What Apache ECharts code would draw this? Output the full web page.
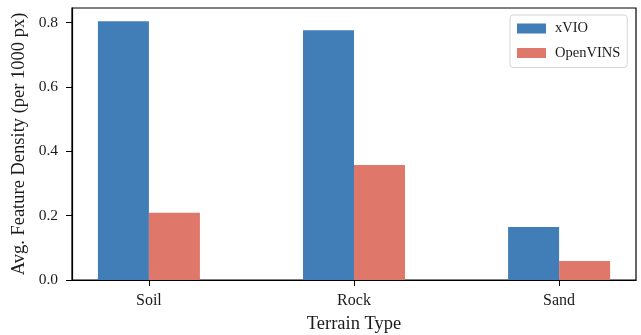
<!DOCTYPE html>
<html><head><meta charset="utf-8">
<script src="https://cdn.jsdelivr.net/npm/echarts@6/dist/echarts.min.js"></script>
<style>html,body{margin:0;padding:0;background:#fff}#c{width:641px;height:335px}</style>
</head><body><div id="c"></div>
<script>
var categories = ['Soil', 'Rock', 'Sand'];
var xvio = [0.804, 0.776, 0.165];
var openvins = [0.209, 0.357, 0.059];
var yTicks = [0, 0.2, 0.4, 0.6, 0.8];

var font = 'Liberation Serif';
var chart = echarts.init(document.getElementById('c'), null, {renderer: 'canvas'});
function pts(arr) { return arr.map(function (v, i) { return [i, v]; }); }
chart.setOption({
  animation: false,
  backgroundColor: '#fff',
  grid: {left: 72, top: 8, width: 564, height: 272, show: true, borderColor: '#000', borderWidth: 1.2,
    backgroundColor: 'transparent', containLabel: false, outerBoundsMode: 'none'},
  legend: {
    data: ['xVIO', 'OpenVINS'], orient: 'vertical', left: 510, top: 15,
    itemWidth: 29, itemHeight: 10, itemGap: 9.5, padding: [6, 7, 7, 7],
    backgroundColor: '#fff', borderColor: '#d5d5d5', borderWidth: 1, borderRadius: 3,
    textStyle: {fontFamily: font, fontSize: 14.5, color: '#1a1a1a', padding: [0, 0, 0, 4]},
    itemStyle: {borderWidth: 0}, icon: 'rect'
  },
  xAxis: {
    type: 'value', min: -0.375, max: 2.375,
    name: 'Terrain Type', nameLocation: 'middle', nameGap: 35, nameMoveOverlap: false,
    nameTextStyle: {fontFamily: font, fontSize: 18.5, color: '#1a1a1a'},
    axisLine: {show: true, onZero: false, lineStyle: {color: '#000', width: 1.2}},
    axisTick: {show: true, length: 6, customValues: [0, 1, 2], lineStyle: {color: '#000', width: 1}},
    axisLabel: {customValues: [0, 1, 2], fontFamily: font, fontSize: 16, color: '#1a1a1a', margin: 13,
      formatter: function (v) { return categories[Math.round(v)]; }},
    splitLine: {show: false}
  },
  yAxis: {
    type: 'value', min: 0, max: 0.845, interval: 0.2,
    name: 'Avg. Feature Density (per 1000 px)', nameLocation: 'middle', nameGap: 43, nameMoveOverlap: false,
    nameTextStyle: {fontFamily: font, fontSize: 18.5, color: '#1a1a1a'},
    axisLine: {show: true, onZero: false, lineStyle: {color: '#000', width: 1.2}},
    axisTick: {show: true, length: 6, customValues: yTicks, lineStyle: {color: '#000', width: 1}},
    axisLabel: {customValues: yTicks, fontFamily: font, fontSize: 15.5, color: '#1a1a1a', margin: 14,
      formatter: function (v) { return v.toFixed(1); }},
    splitLine: {show: false}
  },
  series: [
    {name: 'xVIO', type: 'bar', data: pts(xvio), barWidth: 51, barGap: '0%', itemStyle: {color: '#417db7'}},
    {name: 'OpenVINS', type: 'bar', data: pts(openvins), barWidth: 51, barGap: '0%', itemStyle: {color: '#df786a'}}
  ]
});
</script></body></html>
